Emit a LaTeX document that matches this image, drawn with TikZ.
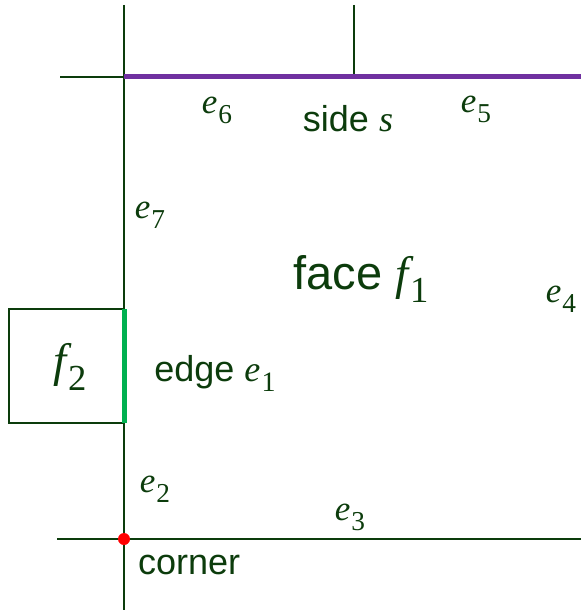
\documentclass[tikz,border=0pt]{standalone}
\usepackage{fontspec}
\setmainfont{Liberation Sans}
\newfontfamily\cmbfont{Liberation Serif}
\definecolor{dkgreen}{RGB}{12,60,12}
\definecolor{edgegreen}{RGB}{0,176,80}
\definecolor{sidepurple}{RGB}{112,48,160}
\definecolor{cornerred}{RGB}{255,0,0}
\newcommand\symb[2]{{\cmbfont\itshape #1}\kern0.03em\raisebox{-0.28em}{\cmbfont\scalebox{0.78}{#2}}}
\tikzset{
  thinline/.style={draw=dkgreen, line width=1.6pt},
  lbl/.style={text=dkgreen, inner sep=0pt, font=\fontsize{36}{40}\selectfont},
  biglbl/.style={text=dkgreen, inner sep=0pt, font=\fontsize{47}{52}\selectfont},
  sym/.style={text=dkgreen, inner sep=0pt, font=\fontsize{35}{38}\selectfont},
}
\begin{document}
\begin{tikzpicture}[x=1pt,y=-1pt]
\useasboundingbox (0,0) rectangle (581,612);
% coordinates
\coordinate (vtop) at (124,5);
\coordinate (vbot) at (124,610);
\coordinate (tl) at (60,77);
\coordinate (tc) at (124,77);
\coordinate (tr) at (581,77);
\coordinate (ticktop) at (354,5);
\coordinate (tickbot) at (354,77);
\coordinate (bl) at (57,539);
\coordinate (br) at (581,539);
\coordinate (sqa) at (9,309);
\coordinate (sqb) at (124,423);
\coordinate (sqtr) at (124,309);
% lines
\draw[thinline] (vtop) -- (vbot);
\draw[thinline] (tl) -- (tc);
\draw[thinline] (ticktop) -- (tickbot);
\draw[thinline] (bl) -- (br);
\draw[dkgreen, line width=1.3pt] (sqa) rectangle (sqb);
\draw[sidepurple, line width=5pt] (tc) -- (tr);
\draw[edgegreen, line width=5pt] (sqtr) -- (sqb);
\node[circle, fill=cornerred, inner sep=0pt, minimum size=12pt] (corner) at (124,539) {};
% labels
\node[sym] (e6) at (217,110) {\symb{e}{6}};
\node[lbl] (side) at (348,119) {side {\cmbfont\itshape s}};
\node[sym] (e5) at (476,109) {\symb{e}{5}};
\node[sym] (e7) at (150,215) {\symb{e}{7}};
\node[biglbl] (face) at (361,279) {face {\fontsize{47}{52}\selectfont\symb{f}{1}}};
\node[sym] (e4) at (561,299) {\symb{e}{4}};
\node[biglbl] (f2) at (70,367) {\symb{f}{2}};
\node[lbl] (edge) at (215,373) {edge {\fontsize{36}{40}\selectfont\symb{e}{1}}};
\node[sym] (e2) at (155,489) {\symb{e}{2}};
\node[sym] (e3) at (350,517) {\symb{e}{3}};
\node[lbl, anchor=west] (cornerlbl) at (138,565) {corner};
\end{tikzpicture}
\end{document}
